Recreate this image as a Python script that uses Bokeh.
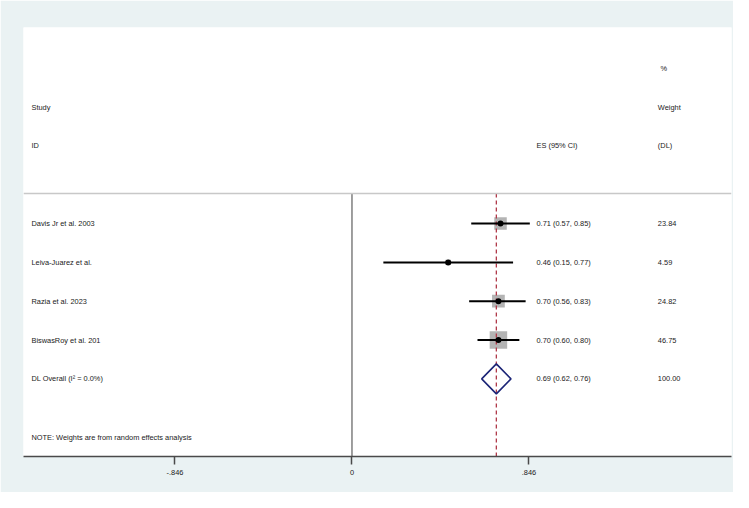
from bokeh.plotting import figure
from bokeh.models import Range1d, FixedTicker, Span, ColumnDataSource
from bokeh.core.properties import value
from bokeh.embed import file_html
from bokeh.resources import INLINE
import numpy as np

# ---- data ----
studies = ["Davis Jr et al. 2003", "Leiva-Juarez et al.", "Razia et al. 2023", "BiswasRoy et al. 201"]
es = [0.71, 0.46, 0.70, 0.70]
lo = [0.57, 0.15, 0.56, 0.60]
hi = [0.85, 0.77, 0.83, 0.80]
weights = [23.84, 4.59, 24.82, 46.75]
overall_label = "DL Overall  (I\u00b2 = 0.0%)"
overall_es, overall_lo, overall_hi, overall_w = 0.69, 0.62, 0.76, 100.00
note = "NOTE: Weights are from random effects analysis"
tick_values = [-0.846, 0.0, 0.846]
tick_labels = ["-.846", "0", ".846"]

FONT = value("Liberation Sans")
FS = "7.4px"
TXT = "#1a1a1a"

rows = list(range(1, len(studies) + 1))
overall_row = len(studies) + 1
note_row = overall_row + 1.5
sep_row = 0.227
bottom_row = 7.0

x_study = -1.532
x_es = 0.882
x_w = 1.462

p = figure(width=733, height=492, output_backend="svg", toolbar_location=None,
           x_range=Range1d(-1.570, 1.814), y_range=Range1d(bottom_row, -4.05),
           y_axis_location=None, min_border_left=23, min_border_right=2,
           min_border_top=27, min_border_bottom=36)
p.background_fill_color = "white"
p.border_fill_color = "#eaf2f3"
p.outline_line_color = None
p.xgrid.visible = False
p.ygrid.visible = False

# x axis
ax = p.xaxis[0]
ax.ticker = FixedTicker(ticks=tick_values)
ax.major_label_overrides = {t: l for t, l in zip(tick_values, tick_labels)}
ax.axis_line_color = "#4a4a4a"
ax.axis_line_width = 1.5
ax.major_tick_line_color = "#4a4a4a"
ax.major_tick_line_width = 1.5
ax.major_tick_out = 8
ax.major_tick_in = 0
ax.minor_tick_line_color = None
ax.major_label_text_font = "Liberation Sans"
ax.major_label_text_font_size = FS
ax.major_label_text_color = TXT
ax.major_label_standoff = 5

# separator line
p.add_layout(Span(location=sep_row, dimension="width", line_color="#c8c8c8", line_width=1.5))

# null line at 0
p.segment(x0=[0], y0=[sep_row], x1=[0], y1=[bottom_row], line_color="#7f7f7f", line_width=1.5)

# boxes
k = 17.5 / np.sqrt(max(weights))
src = ColumnDataSource(dict(y=rows, es=es, lo=lo, hi=hi,
                            size=[k * np.sqrt(w) for w in weights]))
p.scatter("es", "y", source=src, marker="square", size="size",
          fill_color="#b4b4b4", line_color=None)
# overall effect line
p.segment(x0=[overall_es], y0=[sep_row], x1=[overall_es], y1=[bottom_row],
          line_color="#b03a4a", line_width=1.3, line_dash="4 3")
# CI lines
p.segment(x0="lo", y0="y", x1="hi", y1="y", source=src, line_color="black", line_width=2)
p.scatter("es", "y", source=src, marker="circle", size=6, fill_color="black", line_color=None)

# diamond
h = 0.386
p.patch([overall_lo, overall_es, overall_hi, overall_es],
        [overall_row, overall_row - h, overall_row, overall_row + h],
        fill_alpha=0, line_color="#1c2577", line_width=1.6)

# texts
def txt(x, y, t):
    p.text(x=x, y=y, text=t, text_font=FONT, text_font_size=FS,
           text_color=TXT, text_baseline="middle", text_align="left")

txt([x_study] * 2, [-2, -1], ["Study", "ID"])
txt([x_es], [-1], ["ES (95% CI)"])
txt([1.475, x_w, x_w], [-3, -2, -1], ["%", "Weight", "(DL)"])
txt([x_study] * len(studies), rows, studies)
txt([x_es] * len(studies), rows, [f"{e:.2f} ({l:.2f}, {u:.2f})" for e, l, u in zip(es, lo, hi)])
txt([x_w] * len(studies), rows, [f"{w:.2f}" for w in weights])
txt([x_study], [overall_row], [overall_label])
txt([x_es], [overall_row], [f"{overall_es:.2f} ({overall_lo:.2f}, {overall_hi:.2f})"])
txt([x_w], [overall_row], [f"{overall_w:.2f}"])
txt([x_study], [note_row], [note])

open("out.html", "w").write(file_html(p, INLINE))
